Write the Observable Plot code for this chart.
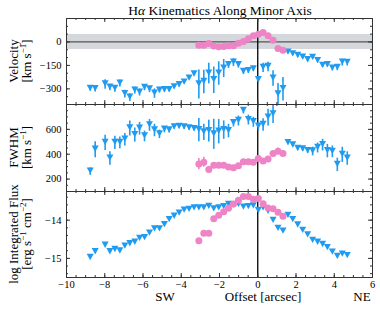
<!DOCTYPE html>
<html><head><meta charset="utf-8">
<script src="https://cdn.jsdelivr.net/npm/d3@7"></script>
<script src="https://cdn.jsdelivr.net/npm/@observablehq/plot@0.6"></script>
<style>
body{margin:0;background:#fff;}
#chart{position:relative;width:380px;height:309px;background:#fff;font-family:"Liberation Serif","Times New Roman",serif;}
#chart svg{position:absolute;left:0;}
</style></head><body><div id="chart"></div>
<script>
// ---------- data ----------
const xDomain = [-10, 6];
const xMajor = [-10, -8, -6, -4, -2, 0, 2, 4, 6];
const velTicks = [-300, -150, 0];
const fwhmTicks = [200, 400, 600];
const fluxTicks = [-15, -14];
const velDomain = [-400, 150];
const fwhmDomain = [100, 800];
const fluxDomain = [-15.5, -13.25];
const velBand = [48];

// broad component (blue triangles)
const blueOffset = [-8.76,-8.50,-7.98,-7.73,-7.47,-7.21,-6.95,-6.69,-6.43,-6.18,-5.92,-5.66,-5.40,-5.14,-4.88,-4.63,-4.37,-4.11,-3.85,-3.59,-3.33,-3.08,-2.82,-2.56,-2.30,-2.04,-1.78,-1.53,-1.27,-1.01,-0.75,-0.49,-0.23,0.03,0.28,0.54,0.80,1.06,1.32,1.58,1.83,2.09,2.35,2.61,2.87,3.13,3.39,3.64,3.90,4.16,4.42,4.68];
const blueVel = [-300,-302,-272,-292,-300,-266,-334,-356,-311,-324,-294,-304,-330,-311,-309,-309,-290,-277,-260,-234,-208,-272,-256,-202,-245,-202,-170,-149,-132,-149,-192,-187,-175,-245,-166,-160,-234,-336,-302,-68,-79,-90,-100,-117,-102,-123,-153,-149,-170,-166,-132,-134];
const blueVelErr = [15,18,30,20,22,22,25,25,22,22,18,20,30,15,12,10,10,10,8,8,8,93,75,66,85,75,58,20,25,18,15,15,15,12,30,30,50,70,75,8,8,8,8,8,8,10,10,10,15,18,22,20];
const blueFwhm = [260,436,491,365,491,491,517,607,554,605,543,632,591,560,597,591,616,620,616,608,601,594,576,586,560,581,594,586,649,667,748,675,657,621,635,694,721,null,null,489,470,443,438,425,422,450,473,425,419,314,395,365];
const blueFwhmErr = [30,65,62,54,54,47,50,60,57,51,43,47,50,34,25,20,15,15,15,15,15,94,65,88,121,98,74,54,30,40,25,40,40,30,50,67,74,null,null,12,12,15,15,20,35,40,47,54,47,54,61,54];
const blueFlux = [-14.99,-14.84,-14.67,-14.84,-14.78,-14.82,-14.69,-14.63,-14.59,-14.49,-14.47,-14.35,-14.24,-14.24,-14.13,-14.00,-13.91,-13.83,-13.75,-13.73,-13.69,-13.69,-13.69,-13.65,-13.72,-13.69,-13.66,-13.60,-13.62,-13.60,-13.67,-13.66,-13.64,-13.76,-13.69,-13.78,-14.02,-14.23,-14.30,-13.89,-14.00,-14.14,-14.28,-14.40,-14.54,-14.59,-14.65,-14.73,-14.85,-14.96,-14.90,-14.94];

// narrow component (pink circles)
const pinkOffset = [-3.08,-2.82,-2.56,-2.30,-2.04,-1.78,-1.53,-1.27,-1.01,-0.75,-0.49,-0.23,0.03,0.28,0.54,0.80,1.06,1.32];
const pinkVel = [-21,-21,-10,-26,-30,-29,-24,-24,-8,3,20,40,50,60,40,11,-42,-53];
const pinkVelErr = [8,8,8,6,6,6,6,6,6,6,6,6,6,6,6,6,8,8];
const pinkFwhm = [321,335,278,311,311,311,297,292,308,340,340,335,365,345,362,406,424,406];
const pinkFwhmErr = [45,40,25,15,12,12,12,12,12,15,15,15,20,15,15,20,25,20];
const pinkFlux = [-14.54,-14.34,-14.34,-13.96,-13.87,-13.78,-13.69,-13.58,-13.48,-13.38,-13.38,-13.45,-13.43,-13.57,-13.68,-13.70,-13.79,-13.90];

// ---------- styling ----------
const blue = "#209bf0", pink = "#ee83c6", ink = "#333";
const fmt = d => (d < 0 ? "\u2212" : "") + Math.abs(d);
const xMinor = d3.range(-20, 13).map(i => i * 0.5);
const minorOf = (dom, step) => d3.range(Math.ceil(dom[0] / step - 1e-9), Math.floor(dom[1] / step + 1e-9) + 1).map(i => +(i * step).toFixed(4));

const triDown = {draw(ctx, size) {
  const a = Math.sqrt(size) * 0.66;
  ctx.moveTo(0, 0.9 * a); ctx.lineTo(-a, -0.9 * a); ctx.lineTo(a, -0.9 * a); ctx.closePath();
}};

const rows = (xs, ys, es) => xs.map((x, i) => ({x, y: ys[i], e: es ? es[i] : null})).filter(d => d.y != null);

const chart = document.getElementById("chart");
const W = 380, mL = 66, mR = 8, innerW = W - mL - mR;

function panel({top, h, mb = 1, yDomain, yMajor, yStep, blueRows, pinkRows, extra = [], xLabels = false, errBlue = true, errPink = true}) {
  const mt = 1;
  const yMinor = minorOf(yDomain, yStep);
  const marks = [
    ...extra,
    Plot.ruleX([0], {stroke: "#000", strokeWidth: 1.3}),
    errBlue ? Plot.ruleX(blueRows, {x: "x", y1: d => d.y - d.e, y2: d => d.y + d.e, stroke: blue, strokeWidth: 1.6, clip: true}) : null,
    Plot.dot(blueRows, {x: "x", y: "y", symbol: triDown, r: 3, fill: blue, dy: -1, clip: true}),
    errPink ? Plot.ruleX(pinkRows, {x: "x", y1: d => d.y - d.e, y2: d => d.y + d.e, stroke: pink, strokeWidth: 1.6, clip: true}) : null,
    Plot.dot(pinkRows, {x: "x", y: "y", r: 3.5, fill: pink, clip: true}),
    Plot.tickX(xMinor, {x: d => d, insetBottom: h - 2, stroke: ink}),
    Plot.tickX(xMinor, {x: d => d, insetTop: h - 2, stroke: ink}),
    Plot.tickX(xMajor, {x: d => d, insetBottom: h - 4, stroke: ink}),
    Plot.tickX(xMajor, {x: d => d, insetTop: h - 4, stroke: ink}),
    Plot.tickY(yMinor, {y: d => d, insetRight: innerW - 2, stroke: ink}),
    Plot.tickY(yMinor, {y: d => d, insetLeft: innerW - 2, stroke: ink}),
    Plot.tickY(yMajor, {y: d => d, insetRight: innerW - 4, stroke: ink}),
    Plot.tickY(yMajor, {y: d => d, insetLeft: innerW - 4, stroke: ink}),
    Plot.frame({stroke: ink, strokeWidth: 1}),
    Plot.text(yMajor, {y: d => d, text: fmt, frameAnchor: "left", textAnchor: "end", dx: -5, fontSize: 10.5, fill: "#000"}),
    xLabels ? Plot.text(xMajor, {x: d => d, text: fmt, frameAnchor: "bottom", lineAnchor: "top", dy: 3, fontSize: 10.5, fill: "#000"}) : null
  ].filter(Boolean);
  const svg = Plot.plot({
    width: W, height: h + mt + mb,
    marginLeft: mL, marginRight: mR, marginTop: mt, marginBottom: mb,
    x: {domain: xDomain, axis: null},
    y: {domain: yDomain, axis: null},
    style: {fontFamily: "Liberation Serif, Times New Roman, serif", background: "transparent", overflow: "visible", position: "absolute", top: (top - mt) + "px", left: "0px"},
    marks
  });
  chart.appendChild(svg);
}

panel({
  top: 18, h: 86, yDomain: velDomain, yMajor: velTicks, yStep: 50,
  blueRows: rows(blueOffset, blueVel, blueVelErr), pinkRows: rows(pinkOffset, pinkVel, pinkVelErr),
  extra: [
    Plot.rect(velBand, {x1: xDomain[0], x2: xDomain[1], y1: d => -d, y2: d => d, fill: "#d4d8dc"}),
    Plot.ruleY([0], {stroke: "#555", strokeWidth: 1.2})
  ]
});
panel({
  top: 104, h: 87, yDomain: fwhmDomain, yMajor: fwhmTicks, yStep: 50,
  blueRows: rows(blueOffset, blueFwhm, blueFwhmErr), pinkRows: rows(pinkOffset, pinkFwhm, pinkFwhmErr)
});
panel({
  top: 191, h: 86, mb: 20, yDomain: fluxDomain, yMajor: fluxTicks, yStep: 0.2,
  blueRows: rows(blueOffset, blueFlux), pinkRows: rows(pinkOffset, pinkFlux),
  errBlue: false, errPink: false, xLabels: true
});

// ---------- text overlay ----------
const ov = d3.select(chart).append("svg")
  .attr("width", 380).attr("height", 309)
  .style("top", "0px").style("pointer-events", "none")
  .attr("font-family", "Liberation Serif, Times New Roman, serif").attr("fill", "#000");

const title = ov.append("text").attr("x", 220).attr("y", 15).attr("text-anchor", "middle").attr("font-size", 13.5);
title.append("tspan").text("H");
title.append("tspan").attr("font-style", "italic").text("\u03b1");
title.append("tspan").text(" Kinematics Along Minor Axis");

// parts: plain strings, or {sup: "..."} for superscripts
function unitLabel(g, parts) {
  let raised = false;
  parts.forEach(p => {
    if (typeof p === "object") {
      g.append("tspan").attr("dy", raised ? 0 : -5).attr("font-size", 9).text(p.sup);
      raised = true;
    } else {
      g.append("tspan").attr("dy", raised ? 5 : 0).text(p);
      raised = false;
    }
  });
}
function yLabel(cy, line1, parts) {
  ov.append("text").attr("transform", `translate(17.5,${cy}) rotate(-90)`).attr("text-anchor", "middle").attr("font-size", 13).text(line1);
  const t2 = ov.append("text").attr("transform", `translate(31,${cy}) rotate(-90)`).attr("text-anchor", "middle").attr("font-size", 13);
  unitLabel(t2, parts);
}
yLabel(61, "Velocity", ["[km s", {sup: "\u22121"}, "]"]);
yLabel(147.5, "FWHM", ["[km s", {sup: "\u22121"}, "]"]);
yLabel(234, "log Integrated Flux", ["[erg s", {sup: "\u22121"}, " cm", {sup: "\u22122"}, "]"]);

[["SW", 165], ["Offset [arcsec]", 263], ["NE", 362]].forEach(([s, x]) =>
  ov.append("text").attr("x", x).attr("y", 301).attr("text-anchor", "middle").attr("font-size", 13).text(s));
</script></body></html>
